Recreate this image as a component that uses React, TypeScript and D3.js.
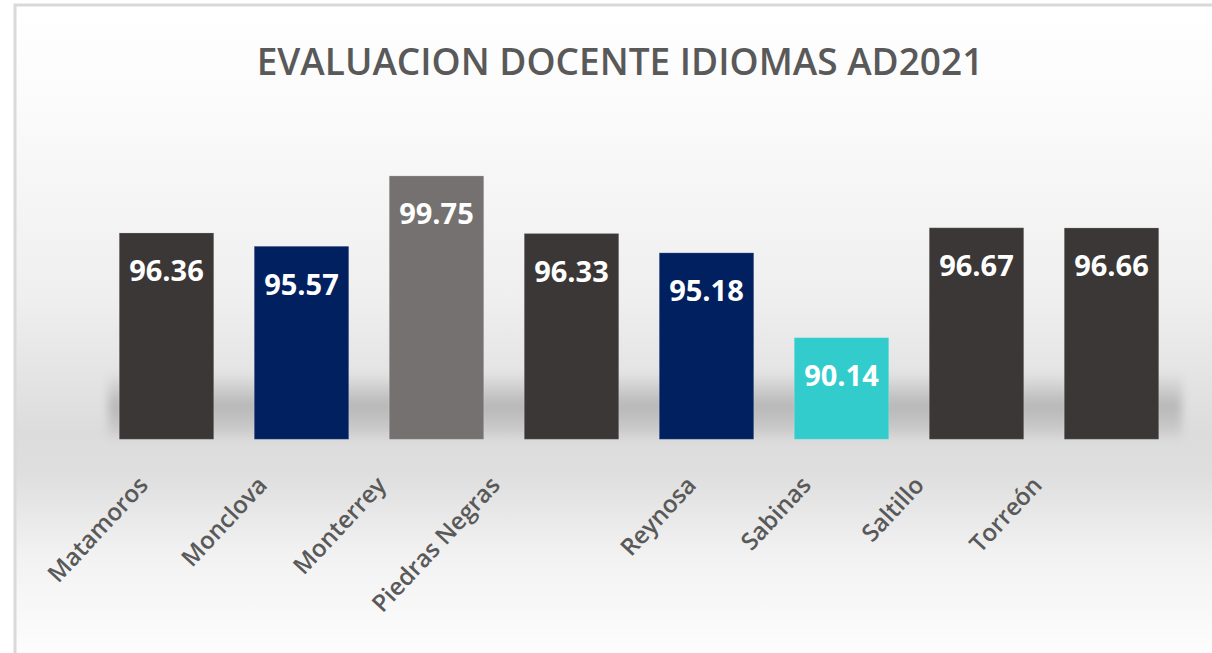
import React from "react";
import * as d3 from "d3";

const title = "EVALUACION DOCENTE IDIOMAS AD2021";
const categories = ["Matamoros", "Monclova", "Monterrey", "Piedras Negras", "Reynosa", "Sabinas", "Saltillo", "Torreón"];
const values = [96.36, 95.57, 99.75, 96.33, 95.18, 90.14, 96.67, 96.66];
const barColors = ["#3b3737", "#002060", "#767171", "#3b3737", "#002060", "#33cccc", "#3b3737", "#3b3737"];

// layout-only nudges for the rotated category labels (as placed in the original)
const labelShift = [-17, -33, -49, -70, -9, -29, -51, -68];

const W = 1212;
const H = 653;

export default function App() {
  const x = d3.scaleBand<string>().domain(categories).range([99, 1179]).paddingInner(0.3).paddingOuter(0.15);
  const y = d3.scaleLinear().domain([84.1, 100]).range([439.3, 439.3 - 15.9 * 16.83]);
  const base = y(84.1);
  const fmt = d3.format(".2f");

  return (
    <svg width={W} height={H} style={{ position: "absolute", left: 0, top: 0 }} xmlns="http://www.w3.org/2000/svg">
      <defs>
        <linearGradient id="bgv" x1="0" y1="5" x2="0" y2="653" gradientUnits="userSpaceOnUse">
          <stop offset="0" stopColor="#ffffff" />
          <stop offset="0.15" stopColor="#fbfbfb" />
          <stop offset="0.45" stopColor="#efefef" />
          <stop offset="0.66" stopColor="#dcdcdc" />
          <stop offset="0.72" stopColor="#dedede" />
          <stop offset="0.85" stopColor="#f2f2f2" />
          <stop offset="1" stopColor="#fdfdfd" />
        </linearGradient>
        <linearGradient id="shadowGrad" x1="0" y1="0" x2="0" y2="1">
          <stop offset="0" stopColor="#000" stopOpacity="0" />
          <stop offset="0.5" stopOpacity="0.18" stopColor="#000" />
          <stop offset="0.8" stopOpacity="0.1" stopColor="#000" />
          <stop offset="1" stopOpacity="0.02" stopColor="#000" />
        </linearGradient>
        <filter id="blur" x="-5%" y="-50%" width="110%" height="200%">
          <feGaussianBlur stdDeviation="4" />
        </filter>
      </defs>

      <rect x={0} y={0} width={W} height={H} fill="#ffffff" />
      <rect x={15} y={5} width={W + 20} height={H + 20} fill="url(#bgv)" stroke="#d9d9d9" strokeWidth={3} />

      {/* floor shadow */}
      <rect x={108} y={372} width={1182 - 108} height={base - 372} fill="url(#shadowGrad)" filter="url(#blur)" />

      <text x={620} y={75} textAnchor="middle" fontFamily="'Open Sans', sans-serif" fontSize={37} fontWeight={600} fill="#595959">
        {title}
      </text>

      {categories.map((c, i) => {
        const bx = x(c)!;
        const bw = x.bandwidth();
        const top = y(values[i]);
        return (
          <g key={c}>
            <rect x={bx} y={top} width={bw} height={base - top} fill={barColors[i]} stroke="rgba(255,255,255,0.18)" strokeWidth={1} />
            <text x={bx + bw / 2} y={top + 48.5} textAnchor="middle" fontFamily="'Open Sans', sans-serif" fontWeight={700} fontSize={29} fill="#ffffff">
              {fmt(values[i])}
            </text>
          </g>
        );
      })}

      {categories.map((c, i) => {
        const cx = x(c)! + x.bandwidth() / 2 + labelShift[i];
        const ly = base + 47;
        return (
          <text key={c} x={cx} y={ly} transform={`rotate(-47 ${cx} ${ly})`} textAnchor="end" fontFamily="'Open Sans', sans-serif" fontWeight={600} fontSize={24} fill="#595959">
            {c}
          </text>
        );
      })}
    </svg>
  );
}
